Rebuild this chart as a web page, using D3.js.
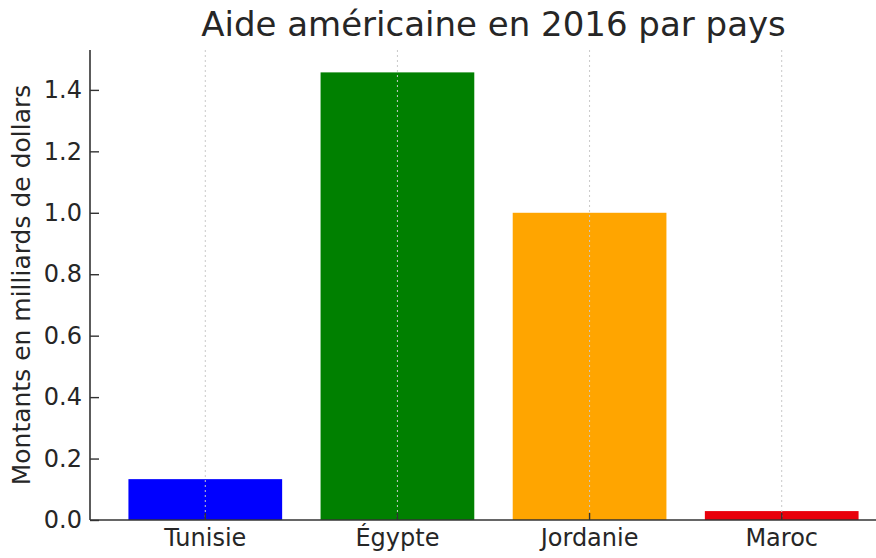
<!DOCTYPE html>
<html lang="fr">
  <head>
    <meta charset="UTF-8" />
    <title>Aide américaine en 2016 par pays</title>
    <script src="https://d3js.org/d3.v7.min.js"></script>
    <style>
      body { margin: 0; background: #fff; }
      text { font-family: "DejaVu Sans", sans-serif; fill: #262626; }
      .grid { stroke: #c8c8c8; stroke-width: 1; stroke-dasharray: 2,3; }
      .spine { stroke: #333; stroke-width: 1.6; fill: none; }
    </style>
  </head>
  <body>
    <svg id="canvas" width="876" height="558"></svg>
    <script>
      // données
      const pays = ["Tunisie", "Égypte", "Jordanie", "Maroc"];
      const montants = [0.133, 1.457, 1.0, 0.029];
      const couleurs = ["#0000ff", "#008000", "#ffa500", "#e8000b"];
      const yTicks = [0.0, 0.2, 0.4, 0.6, 0.8, 1.0, 1.2, 1.4];

      const svg = d3.select("#canvas");
      const mLeft = 90, mRight = 897, mTop = 50, mBottom = 520;

      const x = d3.scaleBand().domain(pays).range([mLeft, mRight]).padding(0.2);
      const y = d3.scaleLinear().domain([0, d3.max(montants) * 1.05]).range([mBottom, mTop]);

      // barres
      svg.selectAll("rect.bar")
        .data(pays)
        .enter()
        .append("rect")
        .attr("class", "bar")
        .attr("x", (d) => x(d))
        .attr("y", (d, i) => y(montants[i]))
        .attr("width", x.bandwidth())
        .attr("height", (d, i) => y(0) - y(montants[i]))
        .attr("fill", (d, i) => couleurs[i]);

      // grille verticale
      svg.selectAll("line.grid")
        .data(pays)
        .enter()
        .append("line")
        .attr("class", "grid")
        .attr("x1", (d) => x(d) + x.bandwidth() / 2)
        .attr("x2", (d) => x(d) + x.bandwidth() / 2)
        .attr("y1", mTop)
        .attr("y2", mBottom);

      // axe y
      const yAxis = svg.append("g")
        .attr("transform", `translate(${mLeft},0)`)
        .call(d3.axisLeft(y).tickValues(yTicks).tickFormat(d3.format(".1f")).tickSizeInner(-9).tickSizeOuter(0).tickPadding(8));
      yAxis.select(".domain").remove();
      yAxis.selectAll("line").attr("stroke", "#333").attr("stroke-width", 1.4);
      yAxis.selectAll("text").attr("font-size", 24).attr("font-family", "DejaVu Sans").attr("fill", "#262626");

      // axe x
      const xAxis = svg.append("g")
        .attr("transform", `translate(0,${mBottom})`)
        .call(d3.axisBottom(x).tickSizeInner(-7).tickSizeOuter(0).tickPadding(9));
      xAxis.select(".domain").remove();
      xAxis.selectAll("line").attr("stroke", "#333").attr("stroke-width", 1.4);
      xAxis.selectAll("text").attr("font-size", 24).attr("font-family", "DejaVu Sans").attr("fill", "#262626");

      // cadres
      svg.append("line").attr("class", "spine")
        .attr("x1", mLeft).attr("x2", mLeft).attr("y1", mTop).attr("y2", mBottom);
      svg.append("line").attr("class", "spine")
        .attr("x1", mLeft).attr("x2", mRight).attr("y1", mBottom).attr("y2", mBottom);

      // titre
      svg.append("text")
        .attr("x", (mLeft + mRight) / 2)
        .attr("y", 36)
        .attr("text-anchor", "middle")
        .attr("font-size", 34)
        .text("Aide américaine en 2016 par pays");

      // titre axe y
      svg.append("text")
        .attr("transform", `translate(30,${(mTop + mBottom) / 2}) rotate(-90)`)
        .attr("text-anchor", "middle")
        .attr("font-size", 25)
        .text("Montants en milliards de dollars");
    </script>
  </body>
</html>
